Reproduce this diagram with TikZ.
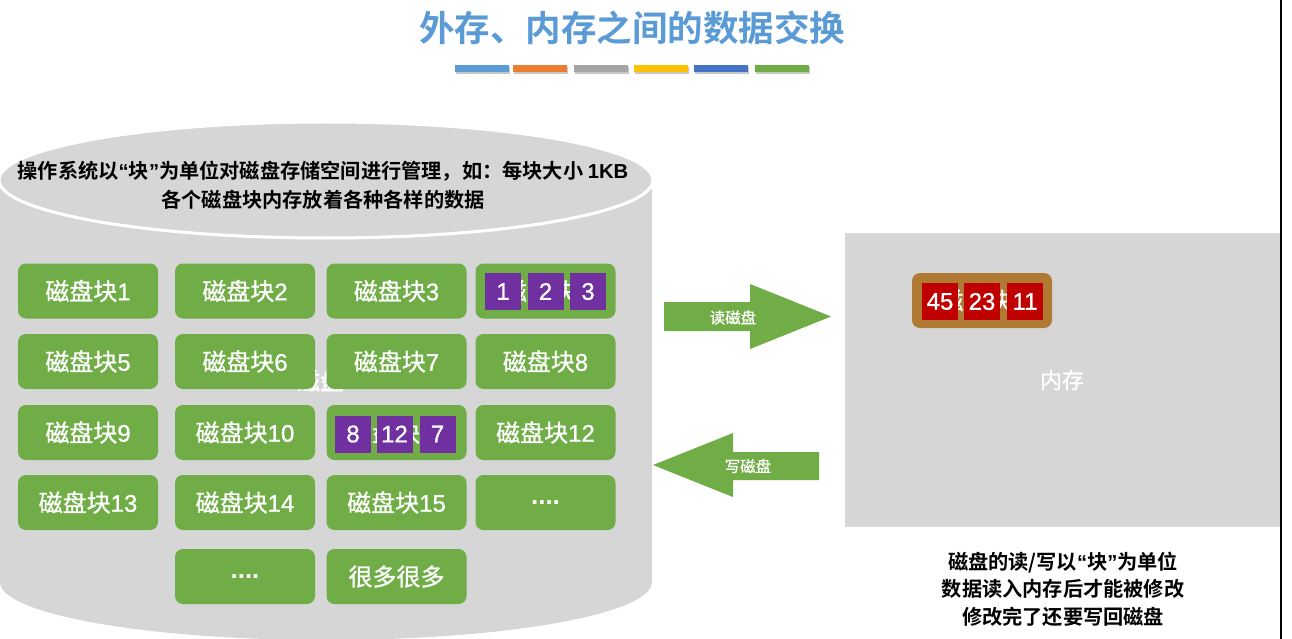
\documentclass[tikz,border=0pt]{standalone}
\usepackage{fontspec}
\setmainfont{Noto Sans CJK SC}[BoldFont={Noto Sans CJK SC Bold}]
\newfontfamily\cjkmed{Noto Sans CJK SC}[FakeBold=0.9]
\newfontfamily\lat{Liberation Sans}
\newfontfamily\latmed{Liberation Sans}[FakeBold=0.9]
\newcommand\dg[1]{{\latmed #1}}
\definecolor{dgreen}{HTML}{70AD47}
\definecolor{cylgray}{HTML}{D6D6D6}
\definecolor{purp}{HTML}{7030A0}
\definecolor{memred}{HTML}{C00000}
\definecolor{bbrown}{HTML}{B07A34}
\definecolor{titleblue}{HTML}{5B9BD5}
\definecolor{cOrange}{HTML}{ED7D31}
\definecolor{cGray}{HTML}{A5A5A5}
\definecolor{cYellow}{HTML}{FFC000}
\definecolor{cDBlue}{HTML}{4472C4}
\tikzset{
  blk/.style={rounded corners=8pt, fill=dgreen, text=white, minimum width=140pt, minimum height=55pt, inner sep=0pt, font=\cjkmed\fontsize{24}{26}\selectfont},
  sq/.style={fill=#1, text=white, minimum width=36pt, minimum height=37pt, inner sep=0pt, font=\latmed\fontsize{24}{26}\selectfont},
  bar/.style={fill=#1},
  barshadow/.style={fill=black!22},
  arrowtext/.style={text=white, font=\cjkmed\fontsize{15.5}{17}\selectfont, inner sep=0pt},
}
\begin{document}
\begin{tikzpicture}[x=1pt,y=-1pt]
\useasboundingbox (0,0) rectangle (1292,639);
% title
\node[text=titleblue, font=\bfseries\fontsize{35.5}{38}\selectfont] (title) at (632,28) {外存、内存之间的数据交换};
% colour bars
\foreach \x/\c [count=\i] in {455/titleblue,513/cOrange,574/cGray,634/cYellow,694/cDBlue,755/dgreen}{
  \fill[barshadow] (\x+1,67.5) rectangle (\x+55,74);
  \fill[bar=\c] (\x,65) rectangle (\x+54,72);
}
% cylinder (disk)
\fill[cylgray] (0,180) rectangle (652,582);
\fill[cylgray] (326,582) ellipse[x radius=326pt, y radius=58pt];
\filldraw[fill=cylgray, draw=white, line width=3pt] (326,180) ellipse[x radius=327pt, y radius=58pt];
\node[align=center, font=\bfseries\fontsize{20.2}{29}\selectfont] (disktext) at (323,185.5)
  {操作系统以{\lat “}块{\lat ”}为单位对磁盘存储空间进行管理，如：每块大小 {\lat\bfseries 1KB}\\各个磁盘块内存放着各种各样的数据};
\node[text=white, font=\bfseries\fontsize{24}{26}\selectfont] (disklabel) at (320,381) {磁盘};
% disk blocks
\node[blk] (b1) at (88,291) {磁盘块\dg{1}};
\node[blk] (b2) at (245,291) {磁盘块\dg{2}};
\node[blk] (b3) at (396.5,291) {磁盘块\dg{3}};
\node[blk] (b4) at (545.5,291) {磁盘块\dg{4}};
\node[blk] (b5) at (88,361.5) {磁盘块\dg{5}};
\node[blk] (b6) at (245,361.5) {磁盘块\dg{6}};
\node[blk] (b7) at (396.5,361.5) {磁盘块\dg{7}};
\node[blk] (b8) at (545.5,361.5) {磁盘块\dg{8}};
\node[blk] (b9) at (88,432.5) {磁盘块\dg{9}};
\node[blk] (b10) at (245,432.5) {磁盘块\dg{10}};
\node[blk] (b11) at (396.5,432.5) {磁盘块\dg{11}};
\node[blk] (b12) at (545.5,432.5) {磁盘块\dg{12}};
\node[blk] (b13) at (88,502.5) {磁盘块\dg{13}};
\node[blk] (b14) at (245,502.5) {磁盘块\dg{14}};
\node[blk] (b15) at (396.5,502.5) {磁盘块\dg{15}};
\node[blk] (b16) at (545.5,502.5) {{\lat\bfseries\fontsize{26}{28}\selectfont ....}};
\node[blk] (b17) at (245,576.5) {{\lat\bfseries\fontsize{26}{28}\selectfont ....}};
\node[blk] (b18) at (396.5,576.5) {很多很多};
% data in block 4 and block 11
\node[sq=purp] (d1) at (503,291.5) {1};
\node[sq=purp] (d2) at (545.5,291.5) {2};
\node[sq=purp] (d3) at (588,291.5) {3};
\node[sq=purp] (d8) at (353,434) {8};
\node[sq=purp] (d12) at (394.5,434) {12};
\node[sq=purp] (d7) at (437.5,434) {7};
% memory
\fill[cylgray] (845,233) rectangle (1281,527);
\node[text=white, font=\cjkmed\fontsize{22}{24}\selectfont] (mem) at (1062,380) {内存};
\node[blk, fill=bbrown] (mb) at (982,300.5) {磁盘块\dg{4}};
\node[sq=memred] (m45) at (940,301.5) {45};
\node[sq=memred] (m23) at (982,301.5) {23};
\node[sq=memred] (m11) at (1025,301.5) {11};
% block arrows
\fill[dgreen] (664,302) -- (750,302) -- (750,284) -- (831,316.5) -- (750,349) -- (750,331) -- (664,331) -- cycle;
\node[arrowtext] (readlbl) at (733,317.5) {读磁盘};
\fill[dgreen] (819,452) -- (733,452) -- (733,433) -- (653,465) -- (733,497) -- (733,480) -- (819,480) -- cycle;
\node[arrowtext] (writelbl) at (748,466) {写磁盘};
% note
\node[align=center, font=\bfseries\fontsize{20.2}{27.5}\selectfont] (note) at (1063,589)
  {磁盘的读/写以{\lat “}块{\lat ”}为单位\\数据读入内存后才能被修改\\修改完了还要写回磁盘};
% right border line
\coordinate (vt) at (1281,0);
\coordinate (vb) at (1281,639);
\draw[line width=1.5pt] (vt) -- (vb);
\end{tikzpicture}
\end{document}
